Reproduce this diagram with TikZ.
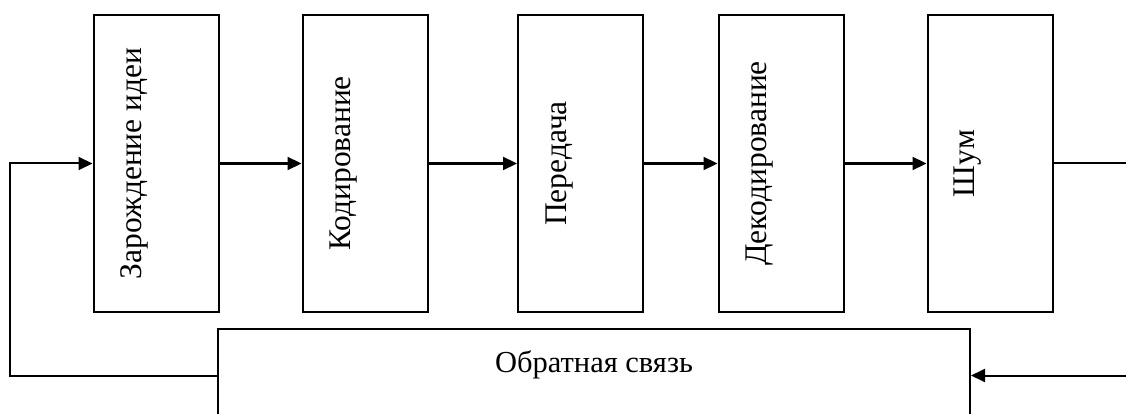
\documentclass[tikz,border=0pt]{standalone}
\usepackage{fontspec}
\setmainfont{Liberation Serif}
\usetikzlibrary{arrows.meta}
\begin{document}
\begin{tikzpicture}[x=1pt,y=-1pt,
  stage/.style={draw, line width=2pt, rectangle, minimum width=125pt, minimum height=297pt, inner sep=0pt},
  vlabel/.style={rotate=90, anchor=base, inner sep=0pt, font=\fontsize{31.5}{33}\selectfont},
  hlabel/.style={anchor=base, inner sep=0pt, font=\fontsize{30.5}{32}\selectfont},
  link/.style={line width=2.2pt},
  loop/.style={line width=2pt},
  tip/.style={-{Triangle[length=14pt,width=13pt]}}]
  \useasboundingbox (0,0) rectangle (1126,414);
  \clip (0,0) rectangle (1126,414);
  \fill[white] (0,0) rectangle (1126,414);

  % stages of the communication process
  \node[stage] (b1) at (156,163.5) {};
  \node[stage] (b2) at (365,163.5) {};
  \node[stage] (b3) at (580.5,163.5) {};
  \node[stage] (b4) at (781,163.5) {};
  \node[stage] (b5) at (990,163.5) {};

  \node[vlabel] (t1) at ([xshift=49pt]b1.west) {Зарождение идеи};
  \node[vlabel] (t2) at ([xshift=49pt]b2.west) {Кодирование};
  \node[vlabel] (t3) at ([xshift=49pt]b3.west) {Передача};
  \node[vlabel] (t4) at ([xshift=49pt]b4.west) {Декодирование};
  \node[vlabel] (t5) at ([xshift=48pt]b5.west) {Шум};

  % feedback block, running past the lower edge
  \node[draw, line width=2pt, minimum width=752pt, minimum height=111pt, inner sep=0pt] (fb) at (594,384.5) {};
  \node[hlabel] (tf) at (594,372) {Обратная связь};

  % forward chain
  \draw[link, tip] (b1.east) -- (b2.west);
  \draw[link, tip] (b2.east) -- (b3.west);
  \draw[link, tip] (b3.east) -- (b4.west);
  \draw[link, tip] (b4.east) -- (b5.west);

  % feedback loop
  \coordinate (rOut) at (1126,163.5);
  \coordinate (rIn) at (1126,375.5);
  \coordinate (lDown) at (10,375.5);
  \coordinate (lUp) at (10,163.5);
  \draw[loop] (b5.east) -- (rOut);
  \draw[loop, tip] (rIn) -- (fb.east |- rIn);
  \draw[loop, tip] (fb.west |- lDown) -- (lDown) -- (lUp) -- (b1.west);
\end{tikzpicture}
\end{document}
